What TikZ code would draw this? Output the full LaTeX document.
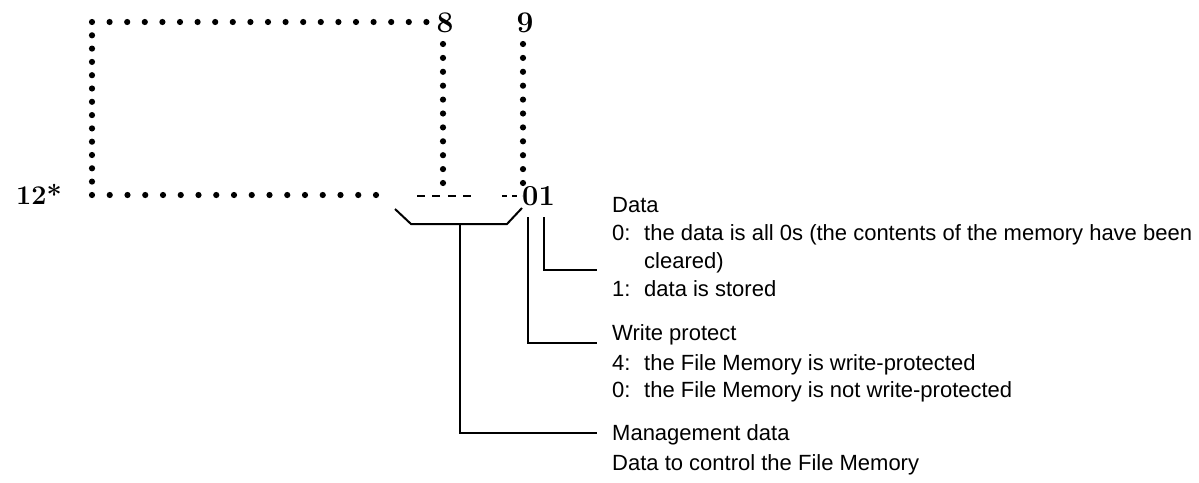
\documentclass[tikz,border=0pt]{standalone}
\usepackage{fontspec}
\newfontfamily\descfont{Liberation Sans}
\begin{document}
\begin{tikzpicture}[x=1pt,y=-1pt,
  dotmark/.style={fill=black},
  conn/.style={line width=2pt},
  desc/.style={anchor=base west, inner sep=0pt, font=\descfont\fontsize{22}{25}\selectfont},
  bitno/.style={anchor=base, inner sep=0pt, font=\bfseries\fontsize{30}{32}\selectfont},
  valtext/.style={anchor=base west, inner sep=0pt, font=\bfseries\fontsize{29}{31}\selectfont}]
\useasboundingbox (0,0) rectangle (1199,482);

% dotted outline of the word
\foreach \i in {0,...,19} \fill[dotmark] (92+17.6*\i,22) circle (3.1pt);
\foreach \j in {1,...,12} \fill[dotmark] (92,22+13.3*\j) circle (3.1pt);
\foreach \i in {0,...,16} \fill[dotmark] (92+17.75*\i,195) circle (3.1pt);
\foreach \j in {0,...,10} {
  \fill[dotmark] (443,44+13.9*\j) circle (3.1pt);
  \fill[dotmark] (523,44+13.9*\j) circle (3.1pt);
}

% bit numbers and word label
\node[bitno] (b8) at (445,32) {8};
\node[bitno] (b9) at (525,32) {9};
\node[anchor=base west, inner sep=0pt, font=\bfseries\fontsize{27}{29}\selectfont] (addr) at (16,204) {12*};

% dashed placeholders and the two low digits
\draw[line width=2.4pt, dash pattern=on 8pt off 7.4pt] (417,196) -- (471,196);
\draw[line width=2.4pt, dash pattern=on 5pt off 5pt] (502,196) -- (522,196);
\node[valtext] (val) at (522,205) {01};

% bracket over the management digits
\coordinate (brL) at (395,209);
\coordinate (brR) at (522,208);
\coordinate (stem) at (460,224);
\draw[conn] (brL) -- (411,224) -- (507,224) -- (brR);

% text blocks
\node[desc] (dataT) at (612,212) {Data};
\node[desc] (d0k) at (612,240) {0:};
\node[desc] (d0t) at (644,240) {the data is all 0s (the contents of the memory have been};
\node[desc] (d0c) at (644,268) {cleared)};
\node[desc] (d1k) at (612,296) {1:};
\node[desc] (d1t) at (644,296) {data is stored};

\node[desc] (wpT) at (612,340) {Write protect};
\node[desc] (w4k) at (612,370) {4:};
\node[desc] (w4t) at (644,370) {the File Memory is write-protected};
\node[desc] (w0k) at (612,397) {0:};
\node[desc] (w0t) at (644,397) {the File Memory is not write-protected};

\node[desc] (mgT) at (612,440) {Management data};
\node[desc] (mgD) at (612,470) {Data to control the File Memory};

% leader lines
\coordinate (dataTop) at (544,217);
\coordinate (dataEnd) at (597,270);
\coordinate (wpTop) at (528,217);
\coordinate (wpEnd) at (597,343);
\coordinate (mgEnd) at (597,433);
\draw[conn] (dataTop) |- (dataEnd);
\draw[conn] (wpTop) |- (wpEnd);
\draw[conn] (stem) |- (mgEnd);
\end{tikzpicture}
\end{document}
